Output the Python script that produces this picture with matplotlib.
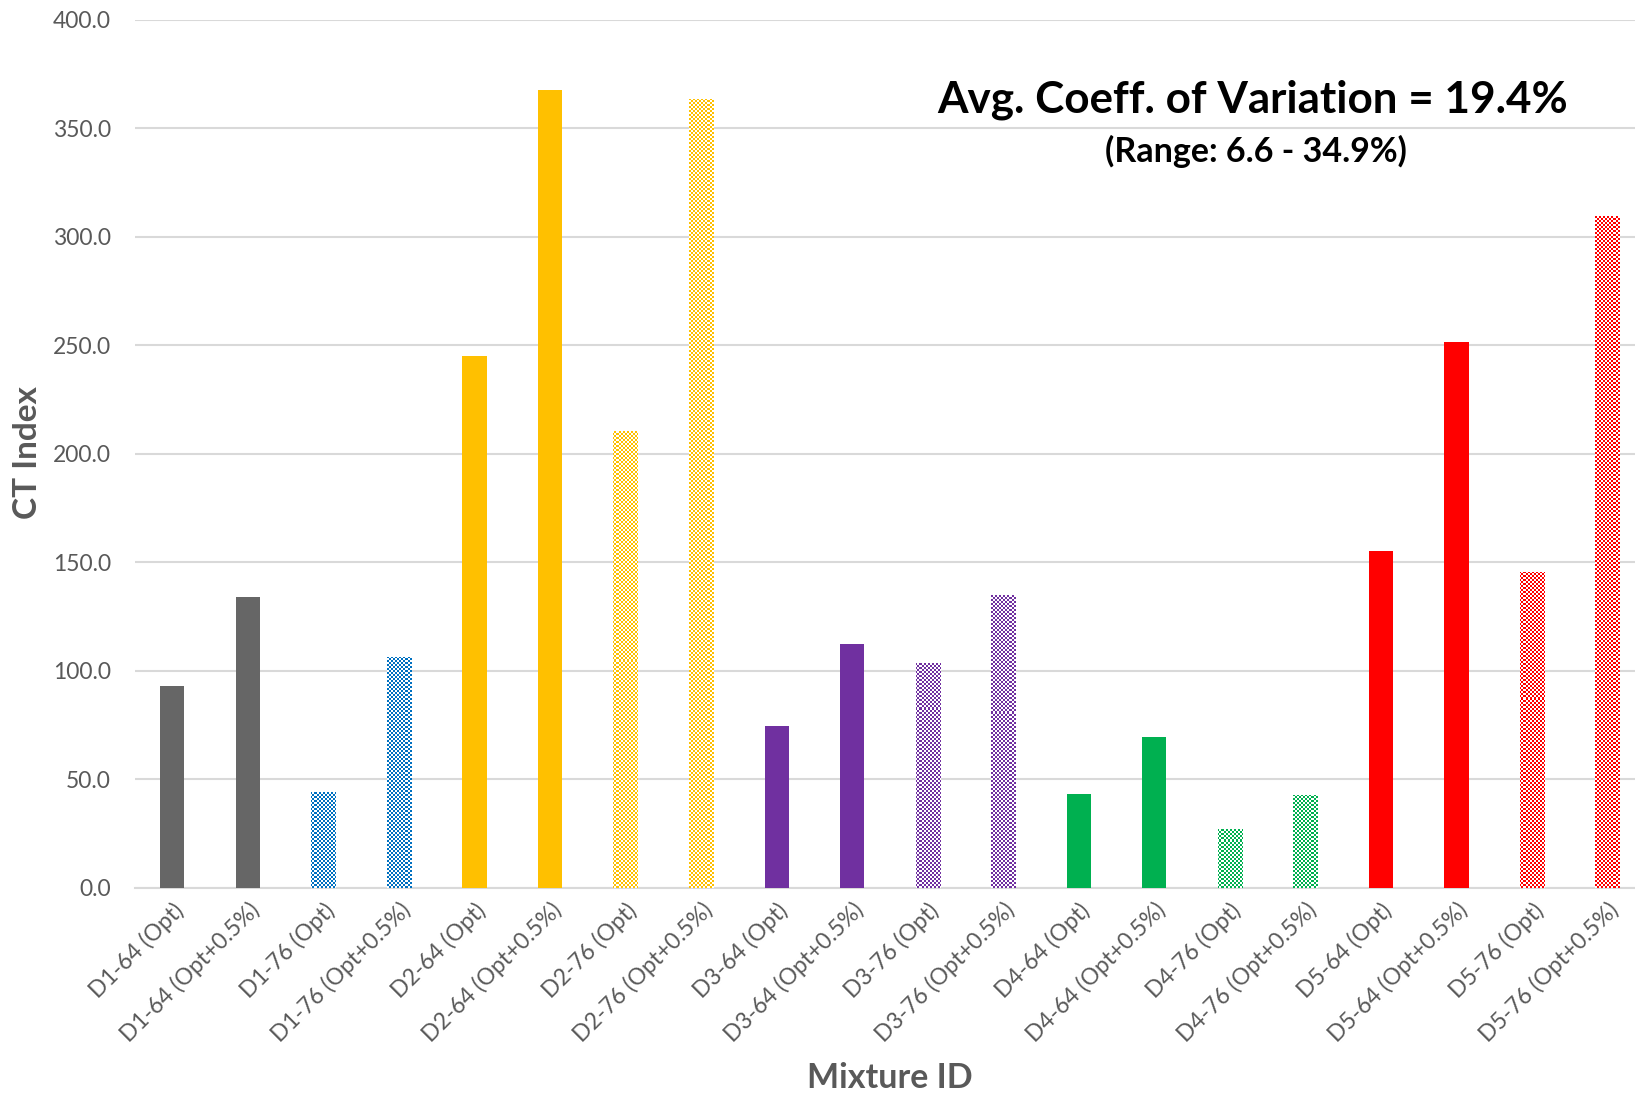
import numpy as np
import matplotlib
matplotlib.use("Agg")
import matplotlib.pyplot as plt
from matplotlib.colors import to_rgba

plt.rcParams['font.family'] = ['Lato', 'DejaVu Sans']

mixtures = [
    "D1-64 (Opt)", "D1-64 (Opt+0.5%)", "D1-76 (Opt)", "D1-76 (Opt+0.5%)",
    "D2-64 (Opt)", "D2-64 (Opt+0.5%)", "D2-76 (Opt)", "D2-76 (Opt+0.5%)",
    "D3-64 (Opt)", "D3-64 (Opt+0.5%)", "D3-76 (Opt)", "D3-76 (Opt+0.5%)",
    "D4-64 (Opt)", "D4-64 (Opt+0.5%)", "D4-76 (Opt)", "D4-76 (Opt+0.5%)",
    "D5-64 (Opt)", "D5-64 (Opt+0.5%)", "D5-76 (Opt)", "D5-76 (Opt+0.5%)",
]
ct_index = [
    92.8, 134.1, 44.2, 106.3,
    245.2, 367.8, 210.6, 363.5,
    74.5, 112.5, 103.4, 135.1,
    43.3, 69.7, 26.9, 42.8,
    155.3, 251.4, 145.7, 309.6,
]
bar_colors = [
    "#666666", "#666666", "#0070C0", "#0070C0",
    "#FFC000", "#FFC000", "#FFC000", "#FFC000",
    "#7030A0", "#7030A0", "#7030A0", "#7030A0",
    "#00B050", "#00B050", "#00B050", "#00B050",
    "#FF0000", "#FF0000", "#FF0000", "#FF0000",
]
# -76 mixes are drawn with a checkerboard fill
checkered = [False, False, True, True] * 5
y_ticks = [0, 50, 100, 150, 200, 250, 300, 350, 400]

W, H, DPI = 16.35, 10.96, 100
fig = plt.figure(figsize=(W, H), dpi=DPI)
ax_rect = [0.0823, 0.19, 0.924, 0.792]
ax = fig.add_axes(ax_rect)

x = np.arange(len(mixtures))
bars = ax.bar(x, ct_index, width=0.32, color=bar_colors, zorder=3, linewidth=0)

# checkerboard images clipped to the bar outlines
ax_w_px = ax_rect[2] * W * DPI
ax_h_px = ax_rect[3] * H * DPI
cell = 2.0
ncols = int(round(ax_w_px / cell))
nrows = int(round(ax_h_px / cell))
ii, jj = np.indices((nrows, ncols))
mask = ((ii + jj) % 2 == 0)
for bar, col, chk in zip(bars, bar_colors, checkered):
    if not chk:
        continue
    bar.set_facecolor("white")
    rgba = np.ones((nrows, ncols, 4))
    rgba[mask] = to_rgba(col)
    im = ax.imshow(rgba, extent=[0, 1, 0, 1], transform=ax.transAxes,
                   interpolation="nearest", aspect="auto", zorder=3.5)
    im.set_clip_path(bar)

ax.set_xlim(-0.5, len(mixtures) - 0.5)
ax.set_ylim(0, 400)
ax.set_yticks(y_ticks)
ax.set_yticklabels([f"{v:.1f}" for v in y_ticks])
ax.set_xticks(x)
ax.set_xticklabels(mixtures, rotation=45, ha="right", rotation_mode="anchor")

ax.yaxis.grid(True, color="#D9D9D9", linewidth=1.5)
ax.set_axisbelow(True)
for side in ("top", "right", "left"):
    ax.spines[side].set_visible(False)
ax.spines["bottom"].set_color("#D9D9D9")
ax.spines["bottom"].set_linewidth(1.5)
ax.tick_params(axis="both", length=0, labelsize=16.5, labelcolor="#595959")
ax.tick_params(axis="y", pad=17)
ax.tick_params(axis="x", pad=8)

fig.text(0.017, 0.587, "CT Index", rotation=90, ha="center", va="center",
         fontsize=24, fontweight="bold", color="#595959")
fig.text(0.544, 0.016, "Mixture ID", ha="center", va="center",
         fontsize=24.5, fontweight="bold", color="#595959")

fig.text(0.766, 0.909, "Avg. Coeff. of Variation = 19.4%", ha="center", va="center",
         fontsize=31.7, fontweight="bold", color="black")
fig.text(0.768, 0.862, "(Range: 6.6 - 34.9%)", ha="center", va="center",
         fontsize=24.5, fontweight="bold", color="black")

fig.savefig("out.png", dpi=DPI)
